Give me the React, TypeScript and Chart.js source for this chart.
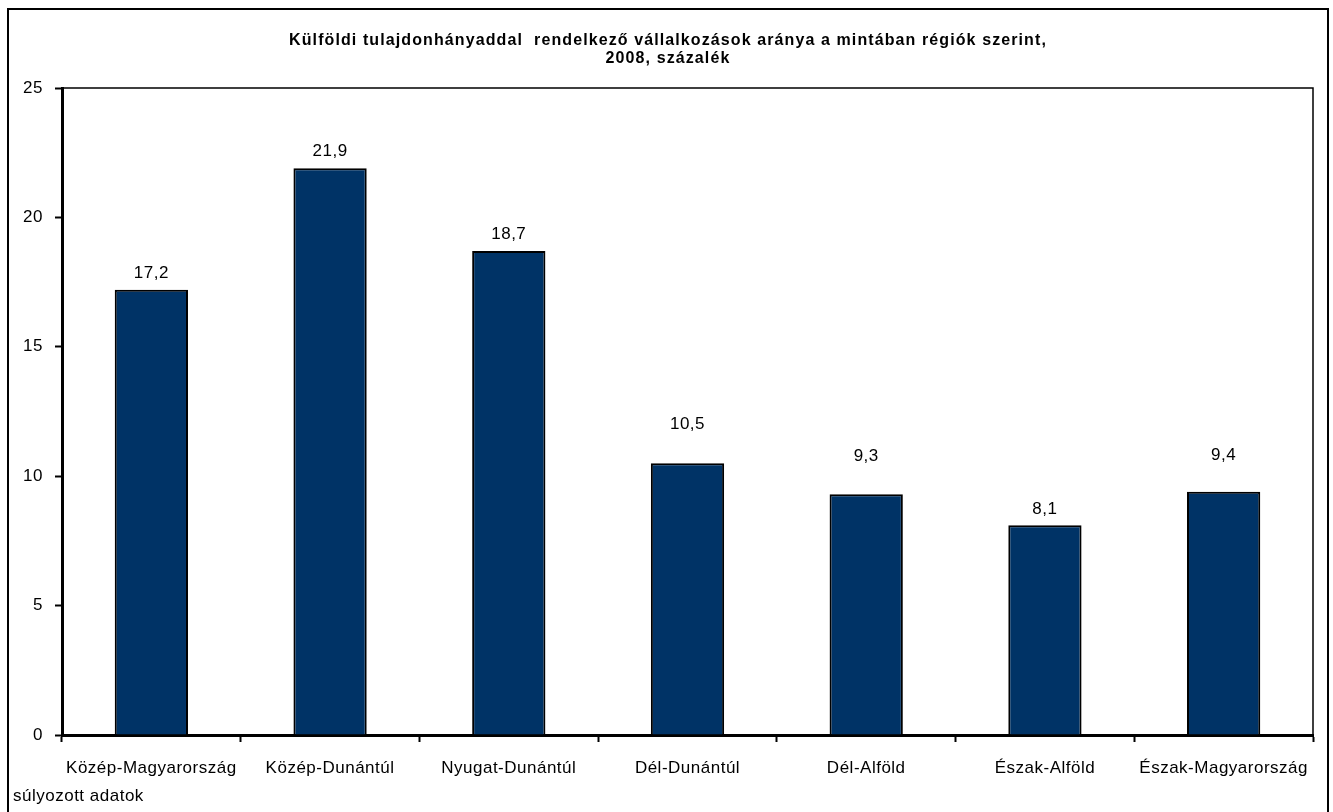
import React, { useEffect, useRef } from "react";
import { Chart, registerables } from "chart.js";

Chart.register(...registerables);

const categories = [
  "Közép-Magyarország",
  "Közép-Dunántúl",
  "Nyugat-Dunántúl",
  "Dél-Dunántúl",
  "Dél-Alföld",
  "Észak-Alföld",
  "Észak-Magyarország",
];
const values = [17.2, 21.9, 18.7, 10.5, 9.3, 8.1, 9.4];
const valueLabels = ["17,2", "21,9", "18,7", "10,5", "9,3", "8,1", "9,4"];
const yTicks = [0, 5, 10, 15, 20, 25];
const titleLines = [
  "Külföldi tulajdonhányaddal  rendelkező vállalkozások aránya a mintában régiók szerint,",
  "2008, százalék",
];
const footnote = "súlyozott adatok";
// extra lift of each value label above its bar (style, px)
const labelLift = [17, 17, 17, 39, 38, 16, 36];

const FONT = "'Liberation Sans', Arial, sans-serif";
const SPACING = "0.5px";

const framePlugin = {
  id: "frame",
  beforeLayout(chart: any) {
    chart.ctx.letterSpacing = SPACING;
  },
  beforeDraw(chart: any) {
    chart.ctx.letterSpacing = SPACING;
  },
  afterDraw(chart: any) {
    const { ctx, chartArea } = chart;
    ctx.save();
    // outer border
    ctx.strokeStyle = "#000";
    ctx.lineWidth = 2;
    ctx.strokeRect(8, 9, 1320, 810);
    // plot area top & right thin border
    ctx.lineWidth = 1.5;
    ctx.beginPath();
    ctx.moveTo(chartArea.left, chartArea.top);
    ctx.lineTo(chartArea.right, chartArea.top);
    ctx.lineTo(chartArea.right, chartArea.bottom);
    ctx.stroke();
    // title
    ctx.fillStyle = "#000";
    ctx.textAlign = "center";
    ctx.textBaseline = "middle";
    ctx.letterSpacing = "1.1px";
    ctx.font = `bold 16px ${FONT}`;
    ctx.fillText(titleLines[0], 668, 41);
    ctx.fillText(titleLines[1], 668, 59);
    // value labels
    ctx.letterSpacing = SPACING;
    const meta = chart.getDatasetMeta(0);
    ctx.font = `17px ${FONT}`;
    meta.data.forEach((bar: any, i: number) => {
      ctx.fillText(valueLabels[i], bar.x, bar.y - labelLift[i]);
    });
    // footnote
    ctx.textAlign = "left";
    ctx.font = `17px ${FONT}`;
    ctx.fillText(footnote, 13, 796);
    ctx.restore();
  },
};

export default function App() {
  const ref = useRef<HTMLCanvasElement | null>(null);
  useEffect(() => {
    if (!ref.current) return;
    const chart = new Chart(ref.current, {
      type: "bar",
      data: {
        labels: categories,
        datasets: [
          {
            data: values,
            backgroundColor: "#003366",
            borderColor: "#000",
            borderWidth: 2,
            categoryPercentage: 1,
            barPercentage: 0.41,
          },
        ],
      },
      options: {
        animation: false,
        responsive: false,
        devicePixelRatio: 1,
        layout: { padding: { left: 0, right: 20, top: 88, bottom: 17 } },
        plugins: {
          legend: { display: false },
          tooltip: { enabled: false },
          title: { display: false },
        },
        scales: {
          x: {
            offset: true,
            grid: {
              offset: true,
              drawOnChartArea: false,
              drawTicks: true,
              tickLength: 7,
              color: "#000",
              tickWidth: 2,
            },
            border: { display: true, color: "#000", width: 3 },
            ticks: {
              color: "#000",
              font: { family: FONT, size: 17 },
              padding: 16,
              maxRotation: 0,
              autoSkip: false,
            },
            afterFit(scale: any) {
              scale.height = 60;
            },
          },
          y: {
            min: 0,
            max: 25,
            afterBuildTicks(scale: any) {
              scale.ticks = yTicks.map((v) => ({ value: v }));
            },
            grid: {
              drawOnChartArea: false,
              drawTicks: true,
              tickLength: 7,
              color: "#000",
              tickWidth: 2,
            },
            border: { display: true, color: "#000", width: 3 },
            ticks: {
              color: "#000",
              font: { family: FONT, size: 17 },
              padding: 12,
            },
            afterFit(scale: any) {
              scale.width = 62;
            },
          },
        },
      },
      plugins: [framePlugin],
    });
    return () => chart.destroy();
  }, []);
  return (
    <div style={{ position: "absolute", left: 0, top: 0, width: 1333, height: 812, background: "#fff" }}>
      <canvas ref={ref} width={1333} height={812} style={{ width: 1333, height: 812, display: "block" }} />
    </div>
  );
}
